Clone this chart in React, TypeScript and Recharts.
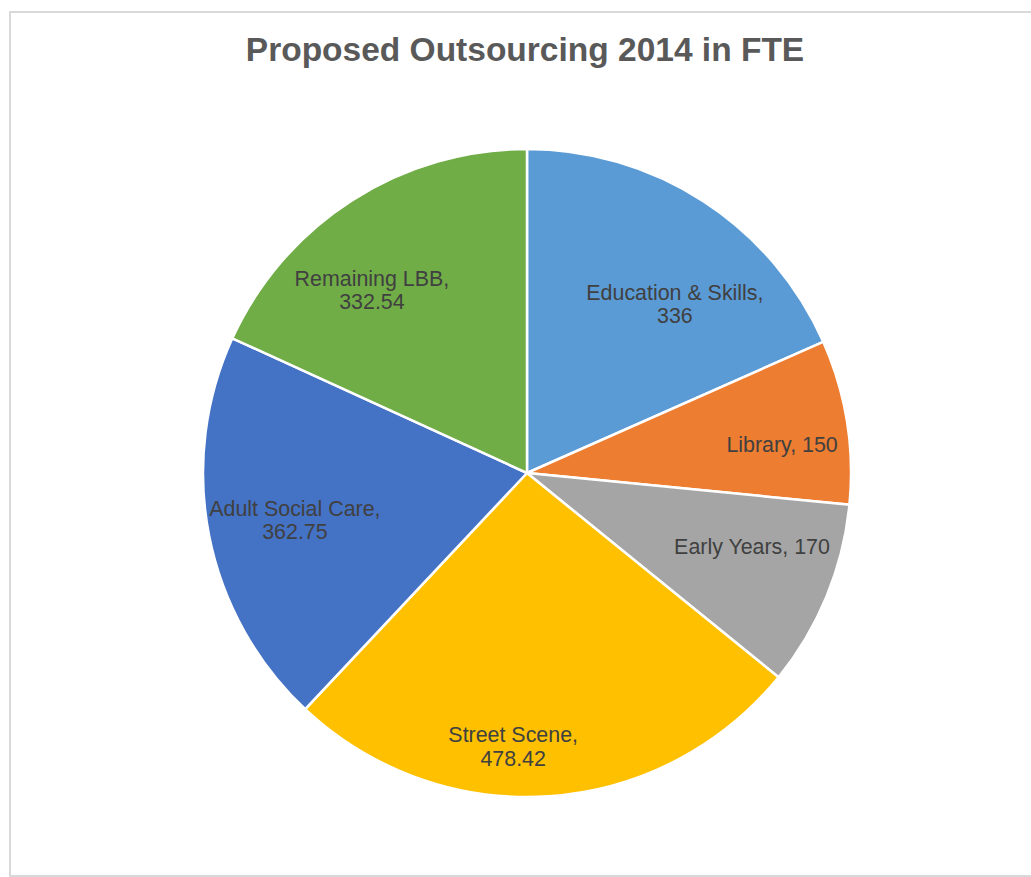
import { PieChart, Pie, Cell } from "recharts";

const categories = [
  "Education & Skills",
  "Library",
  "Early Years",
  "Street Scene",
  "Adult Social Care",
  "Remaining LBB",
];
const values = [336, 150, 170, 478.42, 362.75, 332.54];
const colors = ["#5B9BD5", "#ED7D31", "#A5A5A5", "#FFC000", "#4472C4", "#70AD47"];

// Excel "best fit" puts labels a bit off the mid angle; these nudge them back in place
const labelRadiusFrac = [0.693, 0.792, 0.731, 0.845, 0.731, 0.74];
const labelAngleNudge = [-8.15, -2.86, 4.15, -6.76, 0.39, 7.59];
const twoLine = [true, false, false, true, true, true];

const data = categories.map((name, i) => ({ name, value: values[i] }));

const RADIAN = Math.PI / 180;
const FONT = "'Liberation Sans', Arial, sans-serif";

function renderLabel(props: any) {
  const { cx, cy, midAngle, outerRadius, index, name, value } = props;
  const r = outerRadius * labelRadiusFrac[index];
  const a = (midAngle + labelAngleNudge[index]) * RADIAN;
  const x = cx + r * Math.cos(-a);
  const y = cy + r * Math.sin(-a);
  const common = {
    fill: "#404040",
    fontSize: 21.4,
    fontFamily: FONT,
    textAnchor: "middle" as const,
  };
  if (!twoLine[index]) {
    return (
      <text key={`l-${index}`} x={x} y={y + 7.5} {...common}>
        {`${name}, ${value}`}
      </text>
    );
  }
  return (
    <text key={`l-${index}`} x={x} y={y - 11.75 + 7.5} {...common}>
      <tspan x={x}>{`${name},`}</tspan>
      <tspan x={x} dy={23.5}>
        {value}
      </tspan>
    </text>
  );
}

export default function App() {
  return (
    <div
      style={{
        position: "absolute",
        left: 0,
        top: 0,
        width: 1031,
        height: 877,
        overflow: "hidden",
        background: "#fff",
      }}
    >
      <div
        style={{
          position: "absolute",
          left: 9,
          top: 11,
          width: 1040,
          height: 866,
          border: "2px solid #D9D9D9",
          boxSizing: "border-box",
        }}
      />
      <svg
        width={1031}
        height={877}
        style={{ position: "absolute", left: 0, top: 0 }}
      >
        <text
          x={525}
          y={61}
          textAnchor="middle"
          fill="#595959"
          fontSize={33.5}
          fontWeight="bold"
          fontFamily={FONT}
        >
          Proposed Outsourcing 2014 in FTE
        </text>
      </svg>
      <div style={{ position: "absolute", left: 0, top: 0 }}>
        <PieChart
          width={1031}
          height={877}
          margin={{ top: 0, right: 0, bottom: 0, left: 0 }}
        >
          <Pie
            data={data}
            dataKey="value"
            nameKey="name"
            cx={527}
            cy={473}
            outerRadius={324}
            startAngle={90}
            endAngle={-270}
            stroke="#fff"
            strokeWidth={2.5}
            label={renderLabel}
            labelLine={false}
            isAnimationActive={false}
          >
            {data.map((d, i) => (
              <Cell key={`c-${i}`} fill={colors[i]} />
            ))}
          </Pie>
        </PieChart>
      </div>
    </div>
  );
}
